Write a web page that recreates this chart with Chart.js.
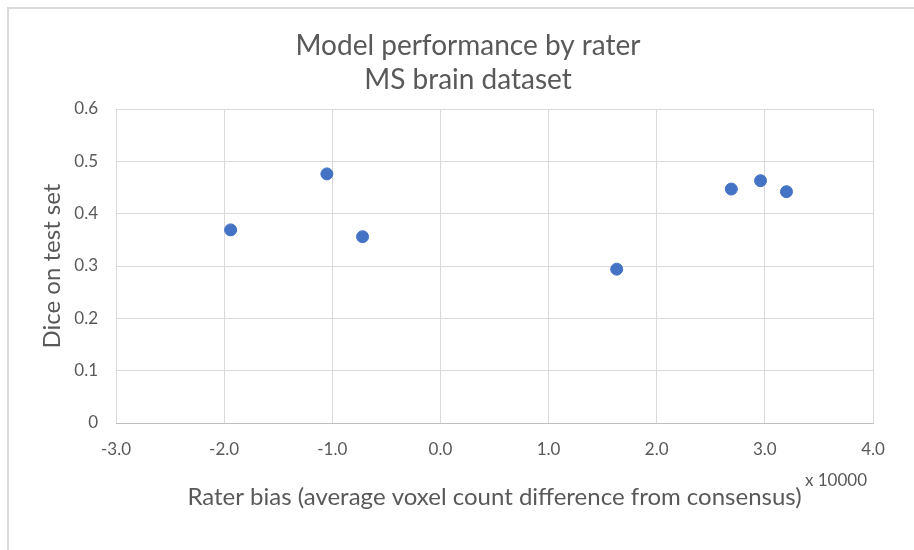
<!DOCTYPE html>
<html>
<head>
<meta charset="utf-8">
<script src="https://cdn.jsdelivr.net/npm/chart.js@4"></script>
<style>
  html, body { margin: 0; padding: 0; background: #fff; }
  #wrap { position: relative; width: 914px; height: 550px; overflow: hidden; }
  #frame { position: absolute; left: 7px; top: 7px; width: 1000px; height: 1000px;
           border-top: 2px solid #d9d9d9; border-left: 2px solid #d9d9d9; }
  canvas { position: absolute; left: 0; top: 0; }
</style>
</head>
<body>
<div id="wrap">
  <div id="frame"></div>
  <canvas id="myChart" width="914" height="550"></canvas>
</div>
<script>
// rater bias in units of 10000 voxels, dice score on test set
var raterBias = [-1.94, -1.05, -0.72, 1.63, 2.69, 2.96, 3.20];
var diceScore = [0.369, 0.476, 0.356, 0.294, 0.447, 0.463, 0.442];

var titleLines = ["Model performance by rater", "MS brain dataset"];
var xTitle = "Rater bias (average voxel count difference from consensus)";
var yTitle = "Dice on test set";
var xUnitLabel = "x 10000";

var fontFamily = "Lato, 'Open Sans', sans-serif";
var textColor = '#595959';

var points = [];
for (var i = 0; i < raterBias.length; i++) {
    points.push({ x: raterBias[i], y: diceScore[i] });
}

// chart title (centred on the whole frame, not the plot) and the "x 10000" unit
var extraText = {
    id: 'extraText',
    afterDraw: function(chart) {
        var ctx = chart.ctx;
        ctx.save();
        ctx.fillStyle = textColor;
        ctx.textBaseline = 'middle';
        ctx.textAlign = 'center';
        ctx.font = "28px " + fontFamily;
        ctx.fillText(titleLines[0], 468, 46);
        ctx.fillText(titleLines[1], 468, 80);
        ctx.font = "17px " + fontFamily;
        ctx.textAlign = 'right';
        ctx.fillText(xUnitLabel, 867, 481);
        ctx.restore();
    }
};

var ctx = document.getElementById("myChart");
var myChart = new Chart(ctx, {
    type: 'scatter',
    data: {
        datasets: [{
            data: points,
            backgroundColor: '#4472C4',
            borderColor: '#4472C4',
            pointRadius: 6,
            pointHoverRadius: 6
        }]
    },
    options: {
        responsive: false,
        animation: false,
        layout: { padding: { left: 0, right: 41, top: 109, bottom: 0 } },
        plugins: {
            legend: { display: false },
            tooltip: { enabled: false },
            title: { display: false }
        },
        scales: {
            x: {
                type: 'linear',
                min: -3,
                max: 4,
                afterFit: function(scale) { scale.height = 127; },
                grid: { color: '#d9d9d9', drawTicks: false },
                border: { color: '#bfbfbf' },
                ticks: {
                    stepSize: 1,
                    padding: 16,
                    color: textColor,
                    font: { family: fontFamily, size: 17 },
                    maxRotation: 0,
                    callback: function(v) { return v.toFixed(1); }
                },
                title: {
                    display: true,
                    text: xTitle,
                    color: textColor,
                    font: { family: fontFamily, size: 24 },
                    padding: { top: 0, bottom: 38 }
                }
            },
            y: {
                min: 0,
                max: 0.6,
                afterFit: function(scale) { scale.width = 116; },
                grid: { color: '#d9d9d9', drawTicks: false },
                border: { display: false },
                ticks: {
                    stepSize: 0.1,
                    padding: 18,
                    color: textColor,
                    font: { family: fontFamily, size: 17 },
                    callback: function(v) { return v === 0 ? "0" : v.toFixed(1); }
                },
                title: {
                    display: true,
                    text: yTitle,
                    color: textColor,
                    font: { family: fontFamily, size: 24 },
                    padding: { top: 38, bottom: 0 }
                }
            }
        }
    },
    plugins: [extraText]
});
</script>
</body>
</html>
